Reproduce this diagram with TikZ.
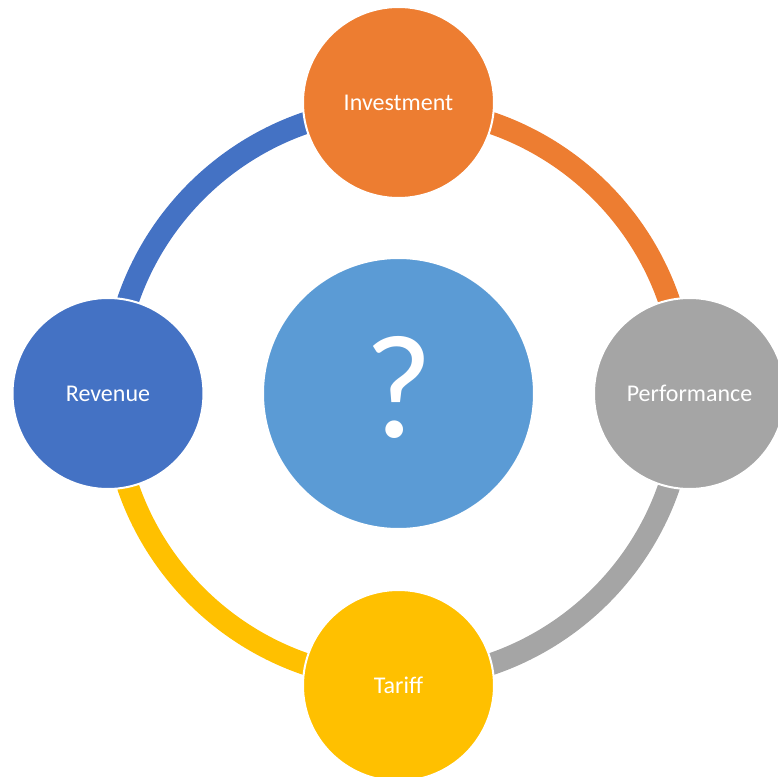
\documentclass[tikz,border=0pt]{standalone}
\usepackage{fontspec}
\setmainfont{Carlito}
\usepackage{tikz}
\usepackage{xcolor}
\definecolor{invorange}{HTML}{ED7D31}
\definecolor{perfgray}{HTML}{A5A5A5}
\definecolor{tariffgold}{HTML}{FFC000}
\definecolor{revblue}{HTML}{4472C4}
\definecolor{coreblue}{HTML}{5B9BD5}

\begin{document}
\begin{tikzpicture}[x=1pt, y=1pt,
        ringarc/.style={line width=22pt},
        bubble/.style={circle, draw=white, line width=2pt, minimum size=191pt, inner sep=0pt,
            text=white, font=\fontsize{24}{28}\selectfont}]
        \useasboundingbox (-398.5,-383.5) rectangle (378.5,393.5);

        % Points on the ring
        \coordinate (rInv) at (90:286);
        \coordinate (rPerf) at (0:286);
        \coordinate (rTariff) at (-90:286);
        \coordinate (rRev) at (180:286);

        % Draw arcs
        \draw[ringarc, invorange] (rInv) arc[start angle=90, end angle=0, radius=286];
        \draw[ringarc, perfgray] (rPerf) arc[start angle=0, end angle=-90, radius=286];
        \draw[ringarc, tariffgold] (rTariff) arc[start angle=270, end angle=180, radius=286];
        \draw[ringarc, revblue] (rRev) arc[start angle=180, end angle=90, radius=286];

        % Center
        \node[bubble, fill=coreblue, minimum size=271pt, text depth=14pt,
            font=\fontsize{148}{150}\selectfont] (core) at (0,0) {?};

        % Outer circles
        \node[bubble, fill=invorange] (inv) at (90:291) {Investment};
        \node[bubble, fill=perfgray] (perf) at (0:291) {Performance};
        \node[bubble, fill=tariffgold] (tariff) at (-90:292) {Tariff};
        \node[bubble, fill=revblue] (rev) at (180:290.5) {Revenue};
    \end{tikzpicture}
\end{document}
